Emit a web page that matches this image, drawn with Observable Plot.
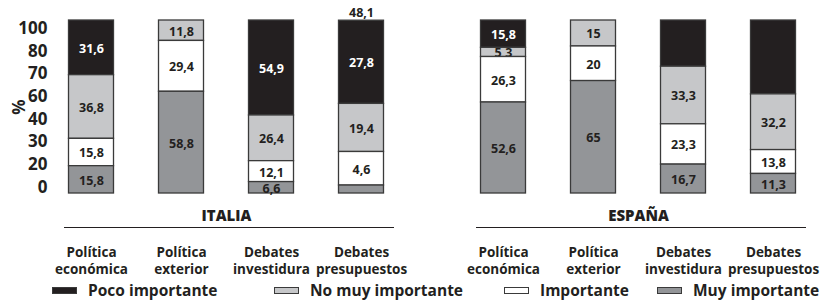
<!DOCTYPE html>
<html><head><meta charset="utf-8">
<script src="https://cdn.jsdelivr.net/npm/d3@7"></script>
<script src="https://cdn.jsdelivr.net/npm/@observablehq/plot@0.6"></script>
<style>
body{margin:0;background:#fff;font-family:"Open Sans",sans-serif;}
#chart{position:relative;width:825px;height:300px;overflow:hidden;}
#chart svg{display:block;}
.lg{position:absolute;top:281px;height:18px;line-height:18px;display:flex;align-items:center;font:700 15.5px/18px "Open Sans",sans-serif;color:#231f20;white-space:nowrap;}
.lg span.sw{display:inline-block;width:23px;height:5px;border:1px solid #3a3a3a;margin-right:11px;}
</style></head><body>
<div id="chart"></div>
<script>
// ---- data ----
const countries = ["ITALIA", "ESPAÑA"];
const categories = ["Política económica", "Política exterior", "Debates investidura", "Debates presupuestos"];
const levels = ["Muy importante", "Importante", "No muy importante", "Poco importante"];
// values: 4 Italy categories then 4 Spain categories
const muyImportante   = [15.8, 58.8, 6.6, 4.6, 52.6, 65, 16.7, 11.3];
const importante      = [15.8, 29.4, 12.1, 19.4, 26.3, 20, 23.3, 13.8];
const noMuyImportante = [36.8, 11.8, 26.4, 27.8, 5.3, 15, 33.3, 32.2];
const pocoImportante  = [31.6, 0, 54.9, 48.1, 15.8, 0, 26.7, 42.7];
// labels as printed in the segments
const muyLabels   = ["15,8", "58,8", "6,6", "", "52,6", "65", "16,7", "11,3"];
const impLabels   = ["15,8", "29,4", "12,1", "4,6", "26,3", "20", "23,3", "13,8"];
const noMuyLabels = ["36,8", "11,8", "26,4", "19,4", "5,3", "15", "33,3", "32,2"];
const pocoLabels  = ["31,6", "", "54,9", "27,8", "15,8", "", "", ""];
const topLabels   = ["", "", "", "48,1", "", "", "", ""];
const yTickLabels = ["100", "80", "70", "60", "40", "30", "20", "0"];

// ---- styles ----
const fills = ["#939598", "#ffffff", "#c6c7c9", "#231f20"];
const textFills = ["#231f20", "#231f20", "#231f20", "#ffffff"];

const series = [muyImportante, importante, noMuyImportante, pocoImportante];
const labelSeries = [muyLabels, impLabels, noMuyLabels, pocoLabels];

const rows = [];
const tops = [];
countries.forEach((country, ci) => categories.forEach((cat, k) => {
  const i = ci * categories.length + k;
  let base = 0;
  levels.forEach((level, li) => {
    const v = series[li][i];
    rows.push({country, cat, level, li, y1: base, y2: base + v, label: labelSeries[li][i]});
    base += v;
  });
  tops.push({country, cat, total: base, label: topLabels[i]});
}));

// evenly spaced tick label positions (as in the original)
const yTickPos = yTickLabels.map((_, i) => 95.4 - i * (91.9 / (yTickLabels.length - 1)));

const marks = [];
for (let li = levels.length - 1; li >= 0; li--) {
  const sub = rows.filter(d => d.li === li);
  marks.push(Plot.barY(sub, {fx: "country", x: "cat", y1: "y1", y2: "y2", fill: fills[li], stroke: "#3a3a3a", strokeWidth: 1.3}));
  marks.push(Plot.text(sub, {fx: "country", x: "cat", y: d => (d.y1 + d.y2) / 2, text: "label", fill: textFills[li], fontSize: 12.5, fontWeight: 700, dy: 1}));
}
marks.push(Plot.text(tops, {fx: "country", x: "cat", y: "total", text: "label", fill: "#231f20", fontSize: 12.5, fontWeight: 700, dy: -8}));
marks.push(Plot.ruleY([0], {dy: 34, dx: 3, stroke: "#231f20", strokeWidth: 1.2}));
marks.push(Plot.axisY(yTickPos, {tickSize: 0, tickPadding: 14, fontSize: 17, fontWeight: 700, fill: "#231f20",
  tickFormat: d => yTickLabels[yTickPos.indexOf(d)], label: "%", labelAnchor: "center", labelArrow: "none", labelOffset: 49}));
marks.push(Plot.axisX({anchor: "bottom", tickSize: 0, tickPadding: 51, fontSize: 13.5, fontWeight: 700, fill: "#231f20",
  tickFormat: d => d.replace(" ", "\n"), lineHeight: 1.28, label: null}));
marks.push(Plot.axisFx({anchor: "bottom", tickSize: 0, tickPadding: 17, fontSize: 15, fontWeight: 800, fill: "#231f20", label: null}));

const chart = Plot.plot({
  width: 825,
  height: 300,
  marginTop: 20,
  marginBottom: 107,
  marginLeft: 60.5,
  marginRight: 20.5,
  style: {fontFamily: "Open Sans", color: "#231f20", background: "#fff"},
  fx: {domain: countries, paddingInner: 0.1985, paddingOuter: 0},
  x: {domain: categories, paddingInner: 0.504, paddingOuter: 0.077},
  y: {domain: [0, 100], label: "%"},
  marks
});
const root = document.getElementById("chart");
root.appendChild(chart);

// legend
const legendPos = [657, 504, 274, 52];
levels.forEach((level, li) => {
  const item = document.createElement("div");
  item.className = "lg";
  item.style.left = legendPos[li] + "px";
  const sw = document.createElement("span");
  sw.className = "sw";
  sw.style.background = fills[li];
  item.appendChild(sw);
  item.appendChild(document.createTextNode(level.charAt(0).toUpperCase() + level.slice(1)));
  root.appendChild(item);
});
</script>
</body></html>
